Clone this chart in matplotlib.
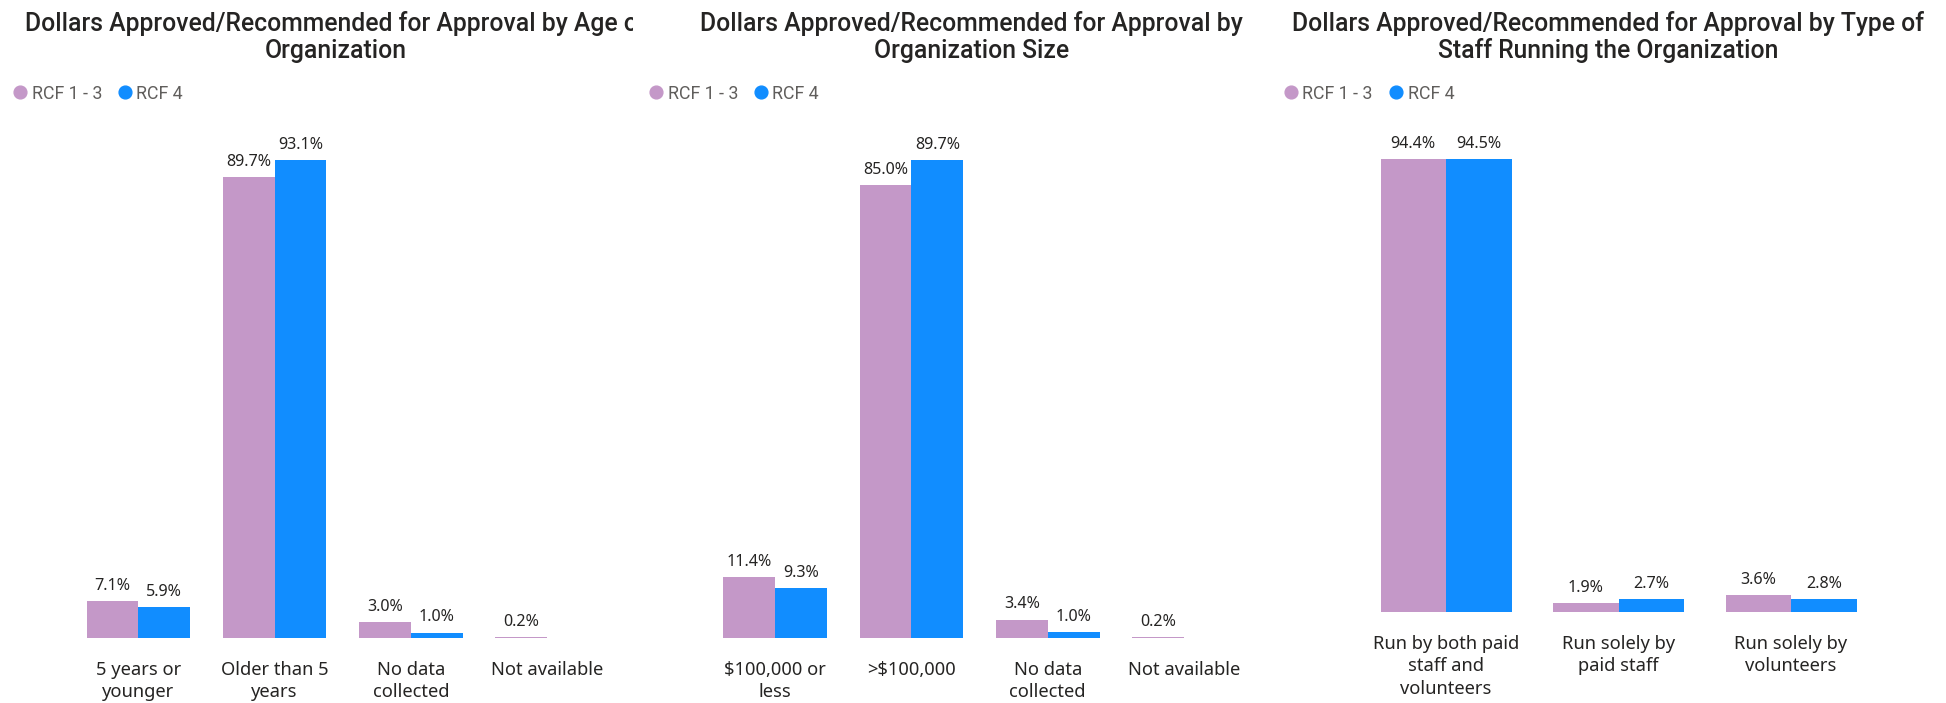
import matplotlib
matplotlib.use("Agg")
import matplotlib.pyplot as plt
from matplotlib.lines import Line2D
from matplotlib.transforms import Bbox

# ---------------- data ----------------
series_names = ["RCF 1 - 3", "RCF 4"]

title_age = ["Dollars Approved/Recommended for Approval by Age of", "Organization"]
title_size = ["Dollars Approved/Recommended for Approval by", "Organization Size"]
title_staff = ["Dollars Approved/Recommended for Approval by Type of",
               "Staff Running the Organization"]

age_categories = ["5 years or\nyounger", "Older than 5\nyears", "No data\ncollected", "Not available"]
age_rcf13 = [7.1, 89.7, 3.0, 0.2]
age_rcf4 = [5.9, 93.1, 1.0, None]

size_categories = ["$100,000 or\nless", ">$100,000", "No data\ncollected", "Not available"]
size_rcf13 = [11.4, 85.0, 3.4, 0.2]
size_rcf4 = [9.3, 89.7, 1.0, None]

staff_categories = ["Run by both paid\nstaff and\nvolunteers", "Run solely by\npaid staff",
                    "Run solely by\nvolunteers"]
staff_rcf13 = [94.4, 1.9, 3.6]
staff_rcf4 = [94.5, 2.7, 2.8]

# ---------------- style ----------------
W, H, DPI = 1946, 703, 100
PINK = "#C498C8"
BLUE = "#118DFF"
DARK = "#252423"
GREY = "#605E5C"
TITLE_FONT = "Roboto"
BODY_FONT = "Noto Sans"

fig = plt.figure(figsize=(W / DPI, H / DPI), dpi=DPI)
fig.patch.set_facecolor("white")


def fx(px):
    return px / W


def fy(py):
    return 1 - py / H


panels = [
    # (title, cats, s1, s2, left, right, top, bottom, title center, panel offset)
    (title_age, age_categories, age_rcf13, age_rcf4, 70.3, 615.2, 117, 637.7, 335.6, 0),
    (title_size, size_categories, size_rcf13, size_rcf4, 707.0, 1252.2, 117, 637.7, 971.5, 636),
    (title_staff, staff_categories, staff_rcf13, staff_rcf4, 1359.8, 1877.3, 118, 612.3, 1608.0, 1271),
]

BW = 0.38
for idx, (title, cats, s1, s2, l, r, t, b, tc, off) in enumerate(panels):
    ax = fig.add_axes([fx(l), fy(b), fx(r - l), (b - t) / H])
    n = len(cats)
    x1 = [i - BW / 2 for i in range(n)]
    x2 = [i + BW / 2 for i in range(n)]
    ax.bar(x1, s1, width=BW, color=PINK, linewidth=0)
    xs2 = [x for x, v in zip(x2, s2) if v is not None]
    vs2 = [v for v in s2 if v is not None]
    ax.bar(xs2, vs2, width=BW, color=BLUE, linewidth=0)
    for xs, vs in ((x1, s1), (xs2, vs2)):
        for x, v in zip(xs, vs):
            ax.annotate(f"{v:.1f}%", (x, v), xytext=(0, 8), textcoords="offset points",
                        ha="center", va="baseline", fontsize=11.6, family=BODY_FONT,
                        color=DARK)
    vmax = max(max(s1), max(vs2))
    ax.set_ylim(0, vmax * 1.09)
    ax.set_xlim(-0.5, n - 0.5)
    ax.set_xticks(range(n))
    ax.set_xticklabels(cats, fontsize=13.2, family=BODY_FONT, color=DARK, linespacing=1.3)
    ax.tick_params(axis="x", length=0, pad=16.5)
    ax.set_yticks([])
    for sp in ax.spines.values():
        sp.set_visible(False)
    ax.patch.set_alpha(0)

    # title (two lines)
    t1 = fig.text(fx(tc), fy(30.5), title[0], ha="center", va="baseline",
                  fontsize=17.8, fontweight="medium", family=TITLE_FONT, color=DARK)
    if idx == 0:
        t1.set_clip_box(Bbox.from_extents(0, 0, 633, H))
        t1.set_clip_on(True)
    fig.text(fx(tc), fy(58), title[1], ha="center", va="baseline",
             fontsize=17.8, fontweight="medium", family=TITLE_FONT, color=DARK)

    # legend
    for (cx, tx, col, name) in ((off + 19.5, off + 31.5, PINK, series_names[0]),
                                (off + 124.5, off + 136.5, BLUE, series_names[1])):
        fig.add_artist(Line2D([fx(cx)], [fy(92)], transform=fig.transFigure, marker="o",
                              markersize=9.2, color=col, linestyle="none"))
        fig.text(fx(tx), fy(99), name, ha="left", va="baseline", fontsize=12.8,
                 family=TITLE_FONT, color=GREY)

fig.savefig("out.png", dpi=DPI, facecolor="white")
